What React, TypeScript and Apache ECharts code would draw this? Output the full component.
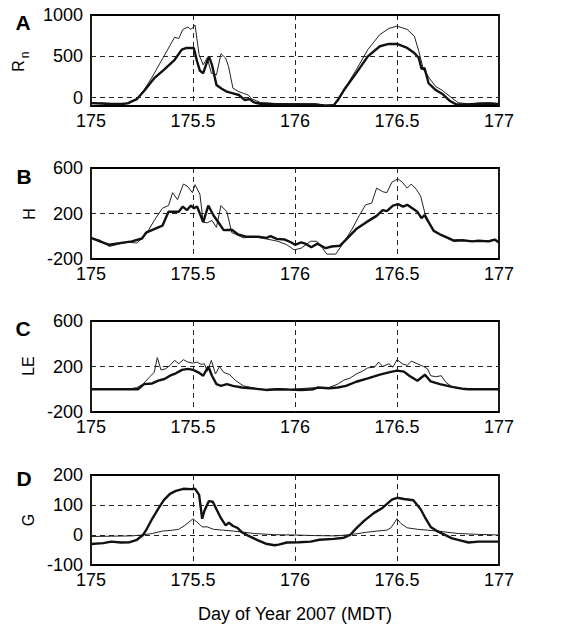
import React, { useEffect, useRef } from "react";
import * as echarts from "echarts";

// ---- Data (Day of Year 2007, MDT) ----
const xTicks = [175, 175.5, 176, 176.5, 177];

// Panel A: net radiation Rn
const rnThin: number[][] = [
  [175.0, -60], [175.05, -65], [175.1, -70], [175.15, -72], [175.18, -65], [175.2, -45], [175.225, -16],
  [175.26, 93], [175.3, 250], [175.35, 470], [175.38, 600], [175.41, 732], [175.43, 715], [175.45, 825],
  [175.475, 854], [175.49, 825], [175.51, 878], [175.53, 520], [175.55, 398], [175.57, 480], [175.59, 297],
  [175.615, 276], [175.637, 532], [175.66, 480], [175.674, 378], [175.696, 114], [175.725, 73], [175.747, 53],
  [175.77, 33], [175.79, -16], [175.83, -57], [175.9, -70], [176.0, -72], [176.1, -75], [176.15, -90],
  [176.19, -85], [176.21, -28], [176.24, 93], [176.3, 337], [176.357, 581], [176.416, 764], [176.46, 837],
  [176.5, 866], [176.55, 825], [176.585, 744], [176.607, 561], [176.63, 337], [176.665, 215], [176.69, 134],
  [176.72, 93], [176.75, 33], [176.8, -60], [176.85, -75], [176.9, -65], [176.95, -62], [177.0, -70],
];
const rnThick: number[][] = [
  [175.0, -65], [175.05, -70], [175.1, -75], [175.15, -75], [175.18, -68], [175.2, -45], [175.225, -16],
  [175.26, 81], [175.31, 236], [175.357, 337], [175.41, 459], [175.445, 581], [175.468, 602], [175.504, 602],
  [175.52, 439], [175.534, 325], [175.55, 297], [175.578, 500], [175.593, 398], [175.615, 154], [175.637, 114],
  [175.666, 73], [175.696, 53], [175.725, 33], [175.754, -28], [175.776, -16], [175.8, -57], [175.83, -73],
  [175.9, -78], [176.0, -80], [176.1, -80], [176.15, -95], [176.19, -90], [176.21, -28], [176.24, 93],
  [176.3, 297], [176.357, 500], [176.416, 622], [176.46, 650], [176.5, 650], [176.55, 602], [176.585, 541],
  [176.607, 480], [176.62, 350], [176.635, 358], [176.655, 175], [176.69, 93], [176.725, 41], [176.76, -40],
  [176.79, -80], [176.85, -80], [176.9, -72], [176.95, -70], [177.0, -78],
];

// Panel B: sensible heat H
const hThin: number[][] = [
  [175.0, -14], [175.045, -35], [175.09, -90], [175.137, -68], [175.18, -53], [175.225, -59], [175.27, 17],
  [175.31, 139], [175.35, 246], [175.38, 270], [175.4, 383], [175.424, 322], [175.453, 459], [175.475, 435],
  [175.497, 383], [175.51, 453], [175.534, 368], [175.55, 124], [175.57, 118], [175.593, 139], [175.615, 78],
  [175.637, 270], [175.666, 215], [175.69, 32], [175.71, 17], [175.747, -14], [175.8, -4], [175.857, -23],
  [175.916, -44], [175.96, -75], [175.996, -120], [176.03, -105], [176.076, -44], [176.107, -44],
  [176.135, -105], [176.156, -157], [176.2, -157], [176.237, -59], [176.28, 63], [176.316, 185], [176.346, 276],
  [176.376, 292], [176.4, 423], [176.43, 392], [176.45, 383], [176.475, 475], [176.504, 505], [176.526, 475],
  [176.55, 423], [176.57, 459], [176.594, 414], [176.616, 353], [176.637, 200], [176.66, 108], [176.68, 47],
  [176.71, 17], [176.74, -14], [176.77, -35], [176.8, -30], [176.85, -40], [176.9, -45], [176.95, -38],
  [176.98, -25], [177.0, -50],
];
const hThick: number[][] = [
  [175.0, -14], [175.05, -50], [175.09, -75], [175.14, -60], [175.2, -45], [175.25, -20], [175.27, 32],
  [175.31, 63], [175.35, 93], [175.38, 215], [175.43, 215], [175.45, 261], [175.47, 230], [175.49, 270],
  [175.505, 246], [175.52, 261], [175.55, 124], [175.575, 270], [175.6, 185], [175.63, 108], [175.65, 54],
  [175.69, 57], [175.72, 17], [175.76, -4], [175.82, -4], [175.86, -14], [175.88, 1], [175.91, -23],
  [175.95, -29], [175.98, -53], [176.0, -75], [176.03, -53], [176.05, -65], [176.08, -96], [176.11, -65],
  [176.15, -105], [176.18, -90], [176.22, -84], [176.25, -29], [176.3, 63], [176.35, 124], [176.4, 179],
  [176.43, 230], [176.45, 221], [176.48, 270], [176.505, 282], [176.53, 261], [176.55, 276], [176.6, 215],
  [176.62, 160], [176.635, 185], [176.66, 108], [176.68, 47], [176.71, 17], [176.75, -14], [176.78, -40],
  [176.82, -35], [176.87, -45], [176.9, -40], [176.95, -45], [176.98, -30], [177.0, -55],
];

// Panel C: latent heat LE
const leThin: number[][] = [
  [175.0, 5], [175.1, 5], [175.2, 6], [175.225, 15], [175.255, 45], [175.285, 104], [175.31, 149],
  [175.325, 278], [175.343, 170], [175.365, 179], [175.387, 209], [175.41, 254], [175.43, 224],
  [175.453, 260], [175.475, 239], [175.497, 230], [175.52, 239], [175.54, 218], [175.556, 224],
  [175.57, 158], [175.59, 254], [175.61, 134], [175.63, 200], [175.65, 149], [175.68, 128], [175.71, 75],
  [175.747, 30], [175.8, 9], [175.857, -3], [175.916, 6], [175.97, 0], [176.03, 6], [176.107, 15],
  [176.166, 15], [176.21, 45], [176.24, 81], [176.27, 98], [176.3, 134], [176.33, 158], [176.357, 188],
  [176.39, 194], [176.41, 239], [176.43, 200], [176.46, 224], [176.48, 194], [176.5, 260], [176.526, 224],
  [176.55, 209], [176.57, 248], [176.6, 224], [176.63, 200], [176.65, 179], [176.665, 119], [176.69, 110],
  [176.717, 119], [176.74, 60], [176.77, 21], [176.8, 5], [176.9, 2], [177.0, 2],
];
const leThick: number[][] = [
  [175.0, 0], [175.1, 0], [175.23, 0], [175.26, 45], [175.3, 51], [175.33, 75], [175.36, 90],
  [175.387, 119], [175.416, 140], [175.446, 170], [175.475, 179], [175.5, 170], [175.526, 149],
  [175.55, 119], [175.575, 200], [175.593, 119], [175.615, 45], [175.637, 30], [175.666, 45], [175.696, 30],
  [175.74, 15], [175.8, 6], [175.857, -6], [175.916, 0], [175.97, -3], [176.03, -6], [176.09, 0],
  [176.11, 15], [176.166, 9], [176.21, 15], [176.25, 30], [176.3, 66], [176.357, 95], [176.416, 128],
  [176.46, 149], [176.5, 164], [176.534, 155], [176.56, 119], [176.6, 75], [176.637, 128], [176.665, 69],
  [176.71, 45], [176.77, 21], [176.82, 5], [176.85, 0], [177.0, 0],
];

// Panel D: ground heat flux G
const gThin: number[][] = [
  [175.0, -5], [175.1, -4], [175.2, -3], [175.25, 0], [175.3, 5], [175.35, 13], [175.4, 16], [175.43, 19],
  [175.46, 32], [175.48, 43], [175.5, 54], [175.52, 43], [175.545, 27], [175.57, 27], [175.6, 19],
  [175.65, 16], [175.7, 13], [175.75, 9], [175.8, 5], [175.9, 1], [176.0, 0], [176.1, -2], [176.2, -3],
  [176.25, 0], [176.3, 4], [176.35, 9], [176.4, 13], [176.45, 16], [176.47, 24], [176.5, 54], [176.52, 38],
  [176.55, 24], [176.6, 19], [176.65, 16], [176.7, 13], [176.75, 9], [176.8, 5], [176.9, 2], [177.0, 0],
];
const gThick: number[][] = [
  [175.0, -30], [175.06, -27], [175.1, -22], [175.147, -25], [175.19, -24], [175.225, -16], [175.255, 0],
  [175.27, 16], [175.3, 54], [175.33, 88], [175.357, 116], [175.387, 137], [175.416, 147], [175.453, 154],
  [175.49, 153], [175.51, 154], [175.53, 134], [175.545, 54], [175.556, 81], [175.578, 113], [175.597, 111],
  [175.615, 86], [175.637, 56], [175.66, 32], [175.676, 41], [175.696, 30], [175.718, 24], [175.74, 9],
  [175.77, -2], [175.813, -16], [175.857, -29], [175.9, -34], [175.92, -32], [175.96, -25], [176.02, -24],
  [176.076, -22], [176.12, -16], [176.19, -13], [176.24, -9], [176.27, 0], [176.3, 22], [176.34, 48],
  [176.386, 73], [176.43, 91], [176.475, 118], [176.5, 124], [176.534, 120], [176.58, 116], [176.616, 86],
  [176.637, 59], [176.665, 27], [176.696, 13], [176.73, 2], [176.77, -11], [176.8, -16], [176.85, -25],
  [176.9, -22], [176.95, -22], [177.0, -22],
];

// y axes: range, tick step, labels shown, dashed reference lines
const yMins = [-100, -200, -200, -100];
const yMaxs = [1000, 600, 600, 200];
const ySteps = [100, 200, 200, 100];
const yLabels = [[0, 500, 1000], [-200, 200, 600], [-200, 200, 600], [-100, 0, 100, 200]];
const yRefLines = [[0, 500], [200], [200], [0, 100]];
const panelLetters = ["A", "B", "C", "D"];
const thinSeries = [rnThin, hThin, leThin, gThin];
const thickSeries = [rnThick, hThick, leThick, gThick];
const xTitle = "Day of Year 2007 (MDT)";

const FONT = "'Liberation Sans', Arial, Helvetica, sans-serif";
const tops = [15, 168, 321, 475];
const H = 91;
const LEFT = 91;
const W = 408;
const dash = [5, 4];

export default function App() {
  const ref = useRef<HTMLDivElement>(null);
  useEffect(() => {
    if (!ref.current) return;
    const chart = echarts.init(ref.current, null, { renderer: "svg" });
    const grids = tops.map((t) => ({
      left: LEFT, top: t, width: W, height: H, show: true,
      borderColor: "#000", borderWidth: 1.8, backgroundColor: "transparent",
    }));
    const xAxes = tops.map((_, i) => ({
      type: "value", gridIndex: i, min: 175, max: 177, interval: 0.5,
      axisLine: { show: false }, axisTick: { show: false },
      splitLine: { show: true, lineStyle: { type: dash, color: "#222", width: 1 } },
      axisLabel: {
        fontSize: 18, color: "#000", fontFamily: FONT, margin: 6,
        formatter: (v: number) => (xTicks.includes(v) ? String(v) : ""),
      },
      ...(i === 3
        ? {
            name: xTitle, nameLocation: "middle", nameGap: 40,
            nameTextStyle: { fontSize: 18, color: "#000", fontFamily: FONT },
          }
        : {}),
    }));
    const yAxes = tops.map((_, i) => ({
      type: "value", gridIndex: i, min: yMins[i], max: yMaxs[i], interval: ySteps[i],
      axisLine: { show: false }, axisTick: { show: false }, splitLine: { show: false },
      axisLabel: {
        fontSize: 18, color: "#000", fontFamily: FONT, margin: 8,
        formatter: (v: number) => (yLabels[i].includes(v) ? String(v) : ""),
      },
    }));
    const series: any[] = [];
    tops.forEach((_, i) => {
      series.push({
        type: "line", xAxisIndex: i, yAxisIndex: i, data: thinSeries[i],
        showSymbol: false, symbol: "none", lineStyle: { width: 1, color: "#222" },
        markLine: {
          silent: true, symbol: ["none", "none"], label: { show: false },
          lineStyle: { type: dash, color: "#222", width: 1 },
          data: yRefLines[i].map((v) => ({ yAxis: v })),
        },
      });
      series.push({
        type: "line", xAxisIndex: i, yAxisIndex: i, data: thickSeries[i],
        showSymbol: false, symbol: "none", lineStyle: { width: 2.4, color: "#111" },
      });
    });
    const letterCenters = [[23, 22], [24, 176], [23, 328], [24, 478]];
    const graphics: any[] = panelLetters.map((L, i) => ({
      type: "text", x: letterCenters[i][0], y: letterCenters[i][1],
      style: { text: L, font: `bold 21px ${FONT}`, fill: "#000", align: "center", verticalAlign: "middle" },
    }));
    const nameStyle = (text: string, size: number) => ({
      text, font: `${size}px ${FONT}`, fill: "#000", align: "center", verticalAlign: "middle",
    });
    graphics.push(
      { type: "text", x: 18, y: 66, rotation: Math.PI / 2, style: nameStyle("R", 16) },
      { type: "text", x: 25, y: 55, rotation: Math.PI / 2, style: nameStyle("n", 12) },
      { type: "text", x: 29, y: 214, rotation: Math.PI / 2, style: nameStyle("H", 16) },
      { type: "text", x: 28, y: 366, rotation: Math.PI / 2, style: nameStyle("LE", 16) },
      { type: "text", x: 28, y: 520, rotation: Math.PI / 2, style: nameStyle("G", 16) },
    );
    chart.setOption({
      animation: false,
      backgroundColor: "#fff",
      textStyle: { fontFamily: FONT },
      grid: grids,
      xAxis: xAxes,
      yAxis: yAxes,
      series,
      graphic: graphics,
    });
    return () => chart.dispose();
  }, []);
  return (
    <div
      ref={ref}
      style={{ position: "fixed", left: 0, top: 0, width: 581, height: 624, background: "#fff" }}
    />
  );
}
